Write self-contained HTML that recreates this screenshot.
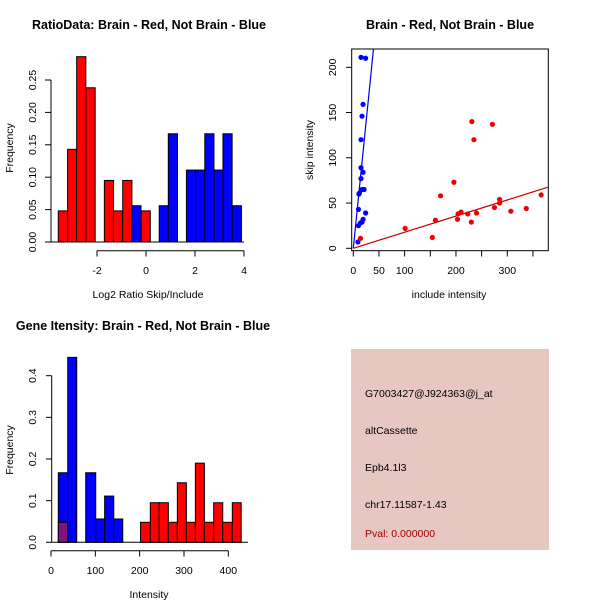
<!DOCTYPE html>
<html><head><meta charset="utf-8"><style>
html,body{margin:0;padding:0;background:#fff;}
svg{display:block;font-family:"Liberation Sans",Arial,sans-serif;}
</style></head><body>
<svg id="chart" width="600" height="600" viewBox="0 0 600 600" xmlns="http://www.w3.org/2000/svg">
<rect width="600" height="600" fill="#fff"/>
<text x="149" y="29" text-anchor="middle" font-size="12.5" font-weight="bold">RatioData: Brain - Red, Not Brain - Blue</text>
<text x="450" y="29" text-anchor="middle" font-size="12.5" font-weight="bold">Brain - Red, Not Brain - Blue</text>
<text x="143" y="330" text-anchor="middle" font-size="12.5" font-weight="bold">Gene Itensity: Brain - Red, Not Brain - Blue</text>
<text x="148" y="298" text-anchor="middle" font-size="10.5">Log2 Ratio Skip/Include</text>
<text transform="translate(13,148) rotate(-90)" text-anchor="middle" font-size="10.5">Frequency</text>
<text x="449" y="298" text-anchor="middle" font-size="10.5">include intensity</text>
<text transform="translate(313,150) rotate(-90)" text-anchor="middle" font-size="10.5">skip intensity</text>
<text x="149" y="598" text-anchor="middle" font-size="10.5">Intensity</text>
<text transform="translate(13,450) rotate(-90)" text-anchor="middle" font-size="10.5">Frequency</text>
<g>
<rect x="351" y="349" width="198" height="201" fill="#e6c7c1"/>
<text x="365" y="397" font-size="10.5">G7003427@J924363@j_at</text>
<text x="365" y="434" font-size="10.5">altCassette</text>
<text x="365" y="471" font-size="10.5">Epb4.1l3</text>
<text x="365" y="508" font-size="10.5">chr17.11587-1.43</text>
<text x="365" y="537" font-size="10.5" fill="#a00000">Pval: 0.000000</text>
</g>
</svg>
<script>
// ---- Ratio histogram data ----
const ratioRedStarts = [-3.58,-3.20,-2.83,-2.45,-1.70,-1.33,-0.95,-0.20];
const ratioRedFreq = [0.048,0.143,0.286,0.238,0.095,0.048,0.095,0.048];
const ratioBlueStarts = [-0.58,0.54,0.91,1.65,2.03,2.40,2.78,3.14,3.52];
const ratioBlueFreq = [0.056,0.056,0.167,0.111,0.111,0.167,0.111,0.167,0.056];
const ratioBinWidth = 0.375;
const ratioXTicks = [-2,0,2,4];
const ratioYTicks = [0,0.05,0.10,0.15,0.20,0.25];
const ratioYLabels = ["0.00","0.05","0.10","0.15","0.20","0.25"];
// ---- Scatter data ----
const blueX = [15,24,19,17,15,15,15,19,17,21,12,11,10,24,19,17,14,10,9];
const blueY = [211,210,159,146,120,89,77,84,65,65,61,60,43,39,32,29,28,25,7];
const redX = [14,101,154,160,170,196,203,204,210,223,230,231,235,240,271,275,285,285,307,337,366];
const redY = [11,22,12,31,58,73,32,38,40,38,29,140,120,39,137,45,54,50,41,44,59];
const blueSlope = 5.6;
const redSlope = 0.178;
const scatterXTicks = [0,50,100,150,200,250,300,350];
const scatterXLabels = ["0","50","100","","200","","300",""];
const scatterYTicks = [0,50,100,150,200];
// ---- Intensity histogram data ----
const intBlueStarts = [16.5,37.7,78.3,100.9,121,141.6];
const intBlueEnds = [37.7,58,100.9,121,141.6,161.9];
const intBlueFreq = [0.167,0.444,0.167,0.056,0.111,0.056];
const intRedStarts = [16.5,202,224,244,264.7,285,305.4,325.7,346,367,387.4,409];
const intRedEnds = [37.7,224,244,264.7,285,305.4,325.7,346,367,387.4,409,429];
const intRedFreq = [0.048,0.048,0.095,0.095,0.048,0.143,0.048,0.190,0.048,0.095,0.048,0.095];
const intXTicks = [0,100,200,300,400];
const intYTicks = [0,0.1,0.2,0.3,0.4];
const intYLabels = ["0.0","0.1","0.2","0.3","0.4"];

const NS="http://www.w3.org/2000/svg";
const svg=document.getElementById('chart');
function mk(tag,attrs,parent){const e=document.createElementNS(NS,tag);for(const k in attrs)e.setAttribute(k,attrs[k]);(parent||svg).appendChild(e);return e;}

const rx=v=>146+v*24.5, ry=v=>242-v*648;
const sx=v=>353.3+v*0.5133, sy=v=>248.3-v*0.905;
const ix=v=>51+v*0.4433, iy=v=>542.3-v*416.5;

const g1=mk('g',{});


ratioRedStarts.forEach((s,i)=>{
  const r=mk('rect',{x:rx(s),y:ry(ratioRedFreq[i]),width:rx(s+ratioBinWidth)-rx(s),height:ry(0)-ry(ratioRedFreq[i]),fill:'#ff0000',stroke:'#000','stroke-width':1},g1);
  
  
});
ratioBlueStarts.forEach((s,i)=>{
  const r=mk('rect',{x:rx(s),y:ry(ratioBlueFreq[i]),width:rx(s+ratioBinWidth)-rx(s),height:ry(0)-ry(ratioBlueFreq[i]),fill:'#0000ff',stroke:'#000','stroke-width':1},g1);
  
  
});
mk('line',{x1:51,y1:ry(0),x2:rx(4),y2:ry(0),stroke:'#000'},g1);
mk('line',{x1:51,y1:ry(0),x2:51,y2:ry(0.25),stroke:'#000'},g1);
ratioYTicks.forEach((t,i)=>{
  mk('line',{x1:45,y1:ry(t),x2:51,y2:ry(t),stroke:'#000'},g1);
  const tx=mk('text',{transform:`translate(33,${ry(t)}) rotate(-90)`,'text-anchor':'middle','font-size':10.5,'dominant-baseline':'central'},g1);
  tx.textContent=ratioYLabels[i];
  
  
});
mk('line',{x1:rx(-2),y1:250.7,x2:rx(4),y2:250.7,stroke:'#000'},g1);
ratioXTicks.forEach(t=>{
  mk('line',{x1:rx(t),y1:250.7,x2:rx(t),y2:256.5,stroke:'#000'},g1);
  const tx=mk('text',{x:rx(t),y:274,'text-anchor':'middle','font-size':10.5},g1);
  tx.textContent=t;
  
  
});

const g2=mk('g',{});


const cp=mk('clipPath',{id:'sclip'},g2);
mk('rect',{x:351.7,y:49,width:196.6,height:201.7},cp);
mk('rect',{x:351.7,y:49,width:196.6,height:201.7,fill:'none',stroke:'#000'},g2);
const bl=mk('line',{x1:sx(0),y1:sy(0),x2:sx(60),y2:sy(60*blueSlope),stroke:'#0000cc','stroke-width':1.2,'clip-path':'url(#sclip)'},g2);


const rl=mk('line',{x1:sx(0),y1:sy(0),x2:sx(400),y2:sy(400*redSlope),stroke:'#cc0000','stroke-width':1.2,'clip-path':'url(#sclip)'},g2);


blueX.forEach((x,i)=>{
  const c=mk('circle',{cx:sx(x),cy:sy(blueY[i]),r:2.6,fill:'#0000ff'},g2);
  
  
});
redX.forEach((x,i)=>{
  const c=mk('circle',{cx:sx(x),cy:sy(redY[i]),r:2.6,fill:'#ee0000'},g2);
  
  
});
scatterXTicks.forEach((t,i)=>{
  mk('line',{x1:sx(t),y1:250.7,x2:sx(t),y2:256.5,stroke:'#000'},g2);
  if(scatterXLabels[i]){
    const tx=mk('text',{x:sx(t),y:274,'text-anchor':'middle','font-size':10.5},g2);
    tx.textContent=scatterXLabels[i];
    
    
  }
});
scatterYTicks.forEach(t=>{
  mk('line',{x1:346,y1:sy(t),x2:351.7,y2:sy(t),stroke:'#000'},g2);
  const tx=mk('text',{transform:`translate(333,${sy(t)}) rotate(-90)`,'text-anchor':'middle','font-size':10.5,'dominant-baseline':'central'},g2);
  tx.textContent=t;
  
  
});

const g3=mk('g',{});


intBlueStarts.forEach((s,i)=>{
  const r=mk('rect',{x:ix(s),y:iy(intBlueFreq[i]),width:ix(intBlueEnds[i])-ix(s),height:iy(0)-iy(intBlueFreq[i]),fill:'#0000ff',stroke:'#000','stroke-width':1},g3);
  
  
});
intRedStarts.forEach((s,i)=>{
  const overlap=s<100;
  const r=mk('rect',{x:ix(s),y:iy(intRedFreq[i]),width:ix(intRedEnds[i])-ix(s),height:iy(0)-iy(intRedFreq[i]),fill:overlap?'#80157f':'#ff0000',stroke:'#000','stroke-width':1},g3);
  
  
});
mk('line',{x1:51.7,y1:iy(0),x2:248,y2:iy(0),stroke:'#000'},g3);
mk('line',{x1:51.7,y1:iy(0),x2:51.7,y2:iy(0.4),stroke:'#000'},g3);
intYTicks.forEach((t,i)=>{
  mk('line',{x1:46,y1:iy(t),x2:51.7,y2:iy(t),stroke:'#000'},g3);
  const tx=mk('text',{transform:`translate(33,${iy(t)}) rotate(-90)`,'text-anchor':'middle','font-size':10.5,'dominant-baseline':'central'},g3);
  tx.textContent=intYLabels[i];
  
  
});
mk('line',{x1:ix(0),y1:550.7,x2:ix(400),y2:550.7,stroke:'#000'},g3);
intXTicks.forEach(t=>{
  mk('line',{x1:ix(t),y1:550.7,x2:ix(t),y2:556.5,stroke:'#000'},g3);
  const tx=mk('text',{x:ix(t),y:574,'text-anchor':'middle','font-size':10.5},g3);
  tx.textContent=t;
  
  
});
</script>
</body></html>
